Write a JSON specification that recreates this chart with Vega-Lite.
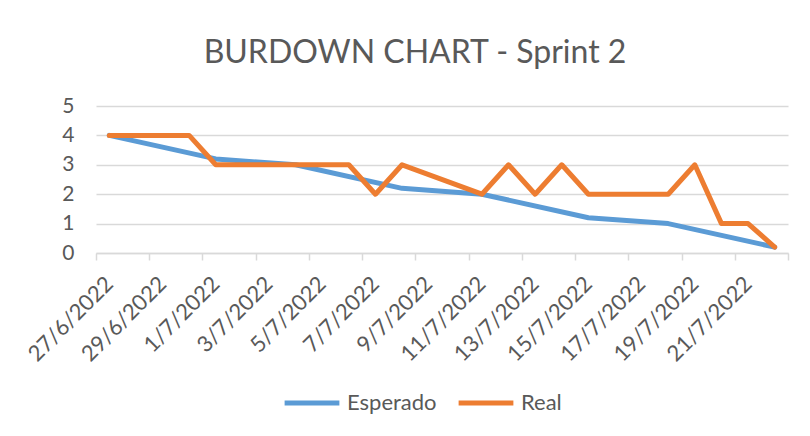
{
  "$schema": "https://vega.github.io/schema/vega-lite/v6.json",
  "width": 692,
  "height": 147,
  "autosize": "none",
  "padding": {"left": 96, "top": 106, "right": 22, "bottom": 183},
  "background": "white",
  "title": {
    "text": "BURDOWN CHART - Sprint 2",
    "font": "Lato",
    "fontSize": 32,
    "fontWeight": "normal",
    "color": "#595959",
    "anchor": "middle",
    "frame": "group",
    "baseline": "alphabetic",
    "dx": -27,
    "dy": 33,
    "offset": 33
  },
  "config": {
    "view": {"stroke": null},
    "font": "Lato"
  },
  "data": {
    "values": [
      {"serie": "Esperado", "fecha": "2022-06-27", "valor": 4},
      {"serie": "Esperado", "fecha": "2022-07-01", "valor": 3.2},
      {"serie": "Esperado", "fecha": "2022-07-04", "valor": 3.0},
      {"serie": "Esperado", "fecha": "2022-07-08", "valor": 2.2},
      {"serie": "Esperado", "fecha": "2022-07-11", "valor": 2.0},
      {"serie": "Esperado", "fecha": "2022-07-15", "valor": 1.2},
      {"serie": "Esperado", "fecha": "2022-07-18", "valor": 1.0},
      {"serie": "Esperado", "fecha": "2022-07-22", "valor": 0.2},
      {"serie": "Real", "fecha": "2022-06-27", "valor": 4},
      {"serie": "Real", "fecha": "2022-06-30", "valor": 4},
      {"serie": "Real", "fecha": "2022-07-01", "valor": 3},
      {"serie": "Real", "fecha": "2022-07-06", "valor": 3},
      {"serie": "Real", "fecha": "2022-07-07", "valor": 2},
      {"serie": "Real", "fecha": "2022-07-08", "valor": 3},
      {"serie": "Real", "fecha": "2022-07-11", "valor": 2},
      {"serie": "Real", "fecha": "2022-07-12", "valor": 3},
      {"serie": "Real", "fecha": "2022-07-13", "valor": 2},
      {"serie": "Real", "fecha": "2022-07-14", "valor": 3},
      {"serie": "Real", "fecha": "2022-07-15", "valor": 2},
      {"serie": "Real", "fecha": "2022-07-18", "valor": 2},
      {"serie": "Real", "fecha": "2022-07-19", "valor": 3},
      {"serie": "Real", "fecha": "2022-07-20", "valor": 1},
      {"serie": "Real", "fecha": "2022-07-21", "valor": 1},
      {"serie": "Real", "fecha": "2022-07-22", "valor": 0.2}
    ],
    "format": {"parse": {"fecha": "utc:'%Y-%m-%d'"}}
  },
  "mark": {"type": "line", "strokeWidth": 5, "strokeCap": "round", "strokeJoin": "round"},
  "encoding": {
    "x": {
      "field": "fecha",
      "type": "temporal",
      "scale": {
        "type": "utc",
        "domain": [
          {"year": 2022, "month": 6, "date": 26, "hours": 12, "utc": true},
          {"year": 2022, "month": 7, "date": 22, "hours": 12, "utc": true}
        ]
      },
      "axis": {
        "title": null,
        "grid": false,
        "values": [
          {"year": 2022, "month": 6, "date": 26, "hours": 12, "utc": true},
          {"year": 2022, "month": 6, "date": 28, "hours": 12, "utc": true},
          {"year": 2022, "month": 6, "date": 30, "hours": 12, "utc": true},
          {"year": 2022, "month": 7, "date": 2, "hours": 12, "utc": true},
          {"year": 2022, "month": 7, "date": 4, "hours": 12, "utc": true},
          {"year": 2022, "month": 7, "date": 6, "hours": 12, "utc": true},
          {"year": 2022, "month": 7, "date": 8, "hours": 12, "utc": true},
          {"year": 2022, "month": 7, "date": 10, "hours": 12, "utc": true},
          {"year": 2022, "month": 7, "date": 12, "hours": 12, "utc": true},
          {"year": 2022, "month": 7, "date": 14, "hours": 12, "utc": true},
          {"year": 2022, "month": 7, "date": 16, "hours": 12, "utc": true},
          {"year": 2022, "month": 7, "date": 18, "hours": 12, "utc": true},
          {"year": 2022, "month": 7, "date": 20, "hours": 12, "utc": true},
          {"year": 2022, "month": 7, "date": 22, "hours": 12, "utc": true}
        ],
        "labelExpr": "datum.value > 1658448000000 ? '' : utcFormat(datum.value + 43200000, '%-d/%-m/%Y')",
        "labelAngle": -45,
        "labelAlign": "right",
        "labelBaseline": "middle",
        "labelOffset": 13,
        "labelPadding": 20,
        "labelFontSize": 22,
        "labelColor": "#595959",
        "labelFont": "Lato",
        "labelOverlap": false,
        "labelFlush": false,
        "domainColor": "#D9D9D9",
        "domainWidth": 1.5,
        "tickColor": "#D9D9D9",
        "tickWidth": 1.5,
        "tickSize": 7
      }
    },
    "y": {
      "field": "valor",
      "type": "quantitative",
      "scale": {"domain": [0, 5], "nice": false},
      "axis": {
        "title": null,
        "values": [0, 1, 2, 3, 4, 5],
        "domain": false,
        "ticks": false,
        "gridColor": "#D9D9D9",
        "gridWidth": 1.5,
        "labelFontSize": 21,
        "labelColor": "#595959",
        "labelFont": "Lato",
        "labelPadding": 22
      }
    },
    "color": {
      "field": "serie",
      "type": "nominal",
      "scale": {"domain": ["Esperado", "Real"], "range": ["#5B9BD5", "#ED7D31"]},
      "legend": {
        "title": null,
        "orient": "none",
        "direction": "horizontal",
        "legendX": 186,
        "legendY": 267,
        "symbolType": "stroke",
        "symbolSize": 3000,
        "symbolStrokeWidth": 5,
        "labelFontSize": 22,
        "labelColor": "#595959",
        "labelFont": "Lato",
        "labelOffset": 5,
        "columnPadding": 11
      }
    }
  }
}
